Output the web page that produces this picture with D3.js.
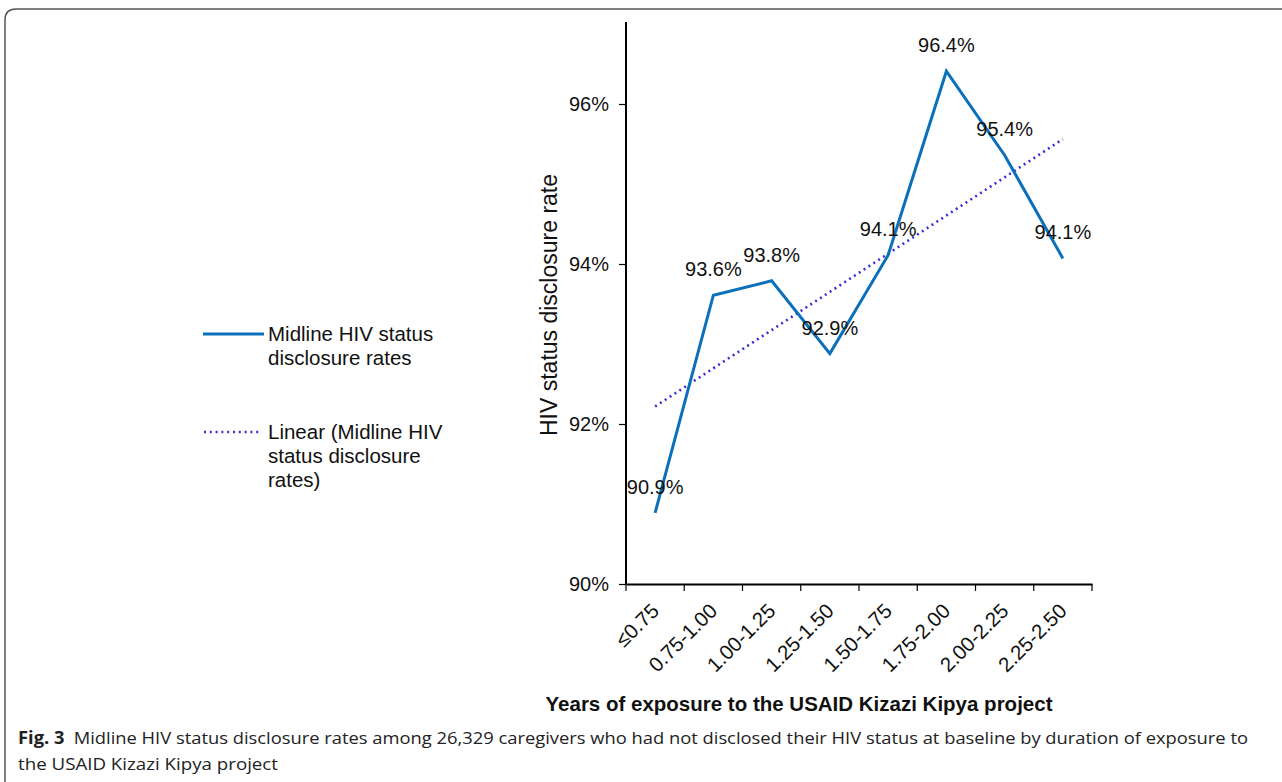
<!DOCTYPE html>
<html>
<head>
<meta charset="utf-8">
<script src="https://cdnjs.cloudflare.com/ajax/libs/d3/7.8.5/d3.min.js"></script>
<style>
  body { margin: 0; background: #fff; }
  svg { display: block; }
</style>
</head>
<body>
<svg id="chart" width="1282" height="782"></svg>
<script>
// chart data
var categories = ["\u22640.75", "0.75-1.00", "1.00-1.25", "1.25-1.50", "1.50-1.75", "1.75-2.00", "2.00-2.25", "2.25-2.50"];
var rates = [90.89, 93.61, 93.79, 92.88, 94.11, 96.41, 95.36, 94.07];
var rateLabels = ["90.9%", "93.6%", "93.8%", "92.9%", "94.1%", "96.4%", "95.4%", "94.1%"];
var yTicks = [90, 92, 94, 96];

var svg = d3.select("#chart");
var font = "'Liberation Sans', Arial, sans-serif";

// frame around the figure
svg.append("path")
  .attr("d", "M5,782 L5,20 Q5,9 16,9 L1282,9")
  .attr("fill", "none")
  .attr("stroke", "#555")
  .attr("stroke-width", 1.5);

var plot = { left: 626, right: 1092, top: 24, bottom: 584 };

var x = d3.scaleBand().domain(categories).range([plot.left, plot.right]);
var y = d3.scaleLinear().domain([90, 97]).range([plot.bottom, plot.top]);

// y axis
var yAxis = svg.append("g")
  .attr("transform", "translate(" + plot.left + ",0)")
  .call(d3.axisLeft(y).tickValues(yTicks).tickSize(7).tickFormat(d => d + "%"));
yAxis.select(".domain").attr("d", "M0," + (plot.top - 2) + "V" + plot.bottom).attr("stroke-width", 2);
yAxis.selectAll(".tick line").attr("stroke-width", 1.2);
yAxis.selectAll("text").attr("font-family", font).attr("font-size", 20).attr("fill", "#111").attr("x", -17);

// x axis
var xAxis = svg.append("g")
  .attr("transform", "translate(0," + plot.bottom + ")")
  .call(d3.axisBottom(x).tickSize(0).tickFormat(""));
xAxis.select(".domain").attr("stroke-width", 2);
// tick marks at category boundaries
var bounds = categories.map(c => x(c)).concat([plot.right]);
xAxis.selectAll(".sep").data(bounds).enter().append("line")
  .attr("x1", d => d).attr("x2", d => d)
  .attr("y1", 0).attr("y2", 7)
  .attr("stroke", "#000").attr("stroke-width", 1.2);

xAxis.selectAll(".xlab").data(categories).enter().append("text")
  .attr("transform", d => "translate(" + (x(d) + x.bandwidth() / 2) + ",23) rotate(-45)")
  .attr("text-anchor", "end")
  .attr("dy", "0.35em")
  .attr("font-family", font)
  .attr("font-size", 20.5)
  .attr("fill", "#111")
  .text(d => d);

// axis titles
svg.append("text")
  .attr("transform", "translate(557,305) rotate(-90)")
  .attr("text-anchor", "middle")
  .attr("font-family", font)
  .attr("font-size", 23)
  .attr("fill", "#111")
  .text("HIV status disclosure rate");

svg.append("text")
  .attr("x", 799).attr("y", 711)
  .attr("text-anchor", "middle")
  .attr("font-family", font)
  .attr("font-size", 20.5)
  .attr("font-weight", "bold")
  .attr("fill", "#111")
  .text("Years of exposure to the USAID Kizazi Kipya project");

// linear trendline (least squares on category index)
var xs = rates.map((d, i) => i + 1);
var mx = d3.mean(xs), my = d3.mean(rates);
var slope = d3.sum(xs, (v, i) => (v - mx) * (rates[i] - my)) / d3.sum(xs, v => (v - mx) * (v - mx));
var icpt = my - slope * mx;
var trend = [categories[0], categories[categories.length - 1]].map((c, k) => {
  var xi = k === 0 ? 1 : categories.length;
  return [x(c) + x.bandwidth() / 2, y(icpt + slope * xi)];
});

svg.append("path")
  .attr("d", d3.line()(trend))
  .attr("fill", "none")
  .attr("stroke", "#3a2fd6")
  .attr("stroke-width", 2.6)
  .attr("stroke-dasharray", "2,3.8")
  .attr("stroke-linecap", "butt");

// main line
var line = d3.line()
  .x((d, i) => x(categories[i]) + x.bandwidth() / 2)
  .y(d => y(d));

svg.append("path")
  .datum(rates)
  .attr("d", line)
  .attr("fill", "none")
  .attr("stroke", "#0a70bb")
  .attr("stroke-width", 3)
  .attr("stroke-linejoin", "miter");

// data labels
svg.selectAll(".dlab").data(rates).enter().append("text")
  .attr("x", (d, i) => x(categories[i]) + x.bandwidth() / 2)
  .attr("y", d => y(d) - 19)
  .attr("text-anchor", "middle")
  .attr("font-family", font)
  .attr("font-size", 20)
  .attr("fill", "#111")
  .text((d, i) => rateLabels[i]);

// legend
var legend = svg.append("g").attr("font-family", font).attr("font-size", 20.5).attr("fill", "#111");
legend.append("line")
  .attr("x1", 203).attr("x2", 264).attr("y1", 334).attr("y2", 334)
  .attr("stroke", "#0a70bb").attr("stroke-width", 3);
legend.append("text").attr("x", 268).attr("y", 341).text("Midline HIV status");
legend.append("text").attr("x", 268).attr("y", 365).text("disclosure rates");
legend.append("line")
  .attr("x1", 204).attr("x2", 262).attr("y1", 432).attr("y2", 432)
  .attr("stroke", "#3a2fd6").attr("stroke-width", 2.6).attr("stroke-dasharray", "2,3.8");
legend.append("text").attr("x", 268).attr("y", 439).text("Linear (Midline HIV");
legend.append("text").attr("x", 268).attr("y", 463).text("status disclosure");
legend.append("text").attr("x", 268).attr("y", 487).text("rates)");

// caption
var capFont = "'Open Sans', 'Noto Sans', sans-serif";
var cap1 = svg.append("text")
  .attr("x", 18).attr("y", 744)
  .attr("font-family", capFont)
  .attr("font-size", 17)
  .attr("fill", "#222")
  .attr("textLength", 1230)
  .attr("lengthAdjust", "spacingAndGlyphs");
cap1.append("tspan").attr("font-weight", "bold").text("Fig. 3");
cap1.append("tspan").text("\u2002Midline HIV status disclosure rates among 26,329 caregivers who had not disclosed their HIV status at baseline by duration of exposure to");

svg.append("text")
  .attr("x", 18).attr("y", 770)
  .attr("font-family", capFont)
  .attr("font-size", 17)
  .attr("fill", "#222")
  .attr("textLength", 260)
  .attr("lengthAdjust", "spacingAndGlyphs")
  .text("the USAID Kizazi Kipya project");
</script>
</body>
</html>
